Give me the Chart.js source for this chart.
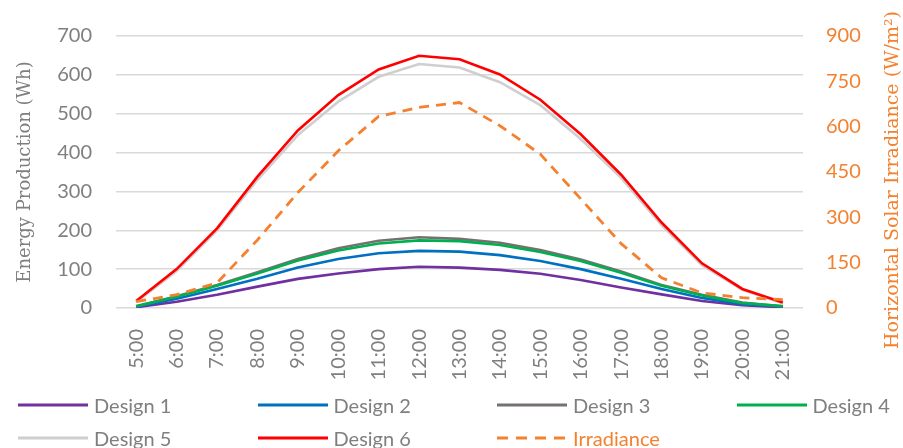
<!DOCTYPE html>
<html lang="en">
<head>
    <meta charset="UTF-8">
    <title>Energy Production and Irradiance</title>
    <script src="https://cdn.jsdelivr.net/npm/chart.js"></script>
    <style>
        body {
            margin: 0;
            padding: 0;
            background: #fff;
            font-family: Lato, sans-serif;
        }
        .wrap {
            position: relative;
            width: 903px;
            height: 448px;
        }
        #legend {
            position: absolute;
            left: 18px;
            top: 388px;
            display: grid;
            grid-template-columns: repeat(4, 239.5px);
            grid-auto-rows: 33px;
        }
        .legend-item {
            display: flex;
            align-items: center;
            font-size: 20px;
            color: #7f7f7f;
        }
        .legend-item svg {
            margin-right: 6px;
        }
    </style>
</head>
<body>
    <div class="wrap">
        <canvas id="energyChart" width="903" height="448"></canvas>
        <div id="legend"></div>
    </div>

    <script>
        // hours of the day
        const hours = ['5:00', '6:00', '7:00', '8:00', '9:00', '10:00', '11:00', '12:00', '13:00',
                       '14:00', '15:00', '16:00', '17:00', '18:00', '19:00', '20:00', '21:00'];

        // energy production per design (Wh)
        const design1 = [2, 16, 34, 55, 75, 89, 100, 106, 104, 98, 88, 72, 53, 35, 18, 7, 2];
        const design2 = [3, 24, 49, 75, 104, 126, 141, 147, 145, 136, 121, 100, 75, 49, 26, 10, 3];
        const design3 = [4, 30, 59, 92, 126, 154, 173, 182, 178, 168, 149, 125, 94, 59, 34, 14, 4];
        const design4 = [5, 29, 57, 89, 122, 148, 166, 174, 172, 162, 144, 121, 91, 57, 32, 13, 5];
        const design5 = [15, 95, 200, 330, 445, 531, 595, 628, 619, 581, 522, 435, 335, 213, 110, 47, 12];
        const design6 = [18, 100, 205, 338, 457, 548, 614, 649, 640, 601, 536, 447, 343, 220, 115, 49, 14];

        // horizontal solar irradiance (W/m2)
        const irradiance = [21, 44, 83, 225, 382, 520, 634, 664, 680, 603, 509, 361, 213, 100, 50, 34, 28];

        const grayText = '#7f7f7f';
        const orange = '#F4812F';

        function lineSet(label, data, color, order) {
            return {
                label: label,
                data: data,
                borderColor: color,
                backgroundColor: color,
                borderWidth: 2.6,
                pointRadius: 0,
                tension: 0,
                yAxisID: 'y',
                order: order
            };
        }

        // draws the right axis title reading bottom to top
        const rightTitle = {
            id: 'rightTitle',
            afterDraw(chart) {
                const ctx = chart.ctx;
                ctx.save();
                ctx.translate(893, 180);
                ctx.rotate(-Math.PI / 2);
                ctx.font = '19px "DejaVu Serif"';
                ctx.fillStyle = orange;
                ctx.textAlign = 'center';
                ctx.textBaseline = 'middle';
                ctx.fillText('Horizontal Solar Irradiance (W/m\u00B2)', 0, 0);
                ctx.restore();
            }
        };

        const ctx = document.getElementById('energyChart').getContext('2d');
        const chart = new Chart(ctx, {
            type: 'line',
            data: {
                labels: hours,
                datasets: [
                    lineSet('Design 1', design1, '#7030A0', 7),
                    lineSet('Design 2', design2, '#0070C0', 6),
                    lineSet('Design 3', design3, '#767171', 5),
                    lineSet('Design 4', design4, '#00B050', 4),
                    lineSet('Design 5', design5, '#D0CECE', 3),
                    lineSet('Design 6', design6, '#FF0000', 2),
                    {
                        label: 'Irradiance',
                        data: irradiance,
                        borderColor: orange,
                        backgroundColor: orange,
                        borderWidth: 2.8,
                        borderDash: [10, 7],
                        pointRadius: 0,
                        tension: 0,
                        yAxisID: 'y1',
                        order: 1
                    }
                ]
            },
            options: {
                responsive: false,
                animation: false,
                devicePixelRatio: 1,
                layout: {
                    padding: { top: 23, bottom: 68, left: 0, right: 0 }
                },
                plugins: {
                    legend: { display: false },
                    tooltip: { enabled: false }
                },
                scales: {
                    x: {
                        offset: true,
                        grid: { display: false },
                        border: { display: false },
                        ticks: {
                            color: grayText,
                            font: { family: 'Lato', size: 20 },
                            minRotation: 90,
                            maxRotation: 90,
                            padding: 13,
                            autoSkip: false
                        },
                        afterFit(scale) { scale.height = 72; }
                    },
                    y: {
                        position: 'left',
                        min: 0,
                        max: 700,
                        ticks: {
                            stepSize: 100,
                            color: grayText,
                            font: { family: 'Lato', size: 20 },
                            padding: 24
                        },
                        grid: {
                            color: '#d9d9d9',
                            lineWidth: 1.5,
                            drawTicks: false
                        },
                        border: { display: false },
                        title: {
                            display: true,
                            text: 'Energy Production (Wh)',
                            color: grayText,
                            font: { family: 'DejaVu Serif', size: 18 },
                            padding: { top: 15, bottom: 0 }
                        },
                        afterFit(scale) { scale.width = 116; }
                    },
                    y1: {
                        position: 'right',
                        min: 0,
                        max: 900,
                        ticks: {
                            stepSize: 150,
                            color: orange,
                            font: { family: 'Lato', size: 20 },
                            padding: 23
                        },
                        grid: { display: false, drawTicks: false },
                        border: { display: false },
                        afterFit(scale) { scale.width = 100; }
                    }
                }
            },
            plugins: [rightTitle]
        });

        // HTML legend laid out in columns, built from the chart's datasets
        const legendBox = document.getElementById('legend');
        chart.data.datasets.forEach(ds => {
            const item = document.createElement('div');
            item.className = 'legend-item';
            const dash = ds.borderDash ? 'stroke-dasharray="11 8"' : '';
            item.innerHTML =
                '<svg width="70" height="6"><line x1="0" y1="3" x2="70" y2="3" stroke="' + ds.borderColor +
                '" stroke-width="3" ' + dash + '/></svg><span>' + ds.label + '</span>';
            if (ds.label === 'Irradiance') {
                item.style.color = orange;
            }
            legendBox.appendChild(item);
        });
    </script>
</body>
</html>
